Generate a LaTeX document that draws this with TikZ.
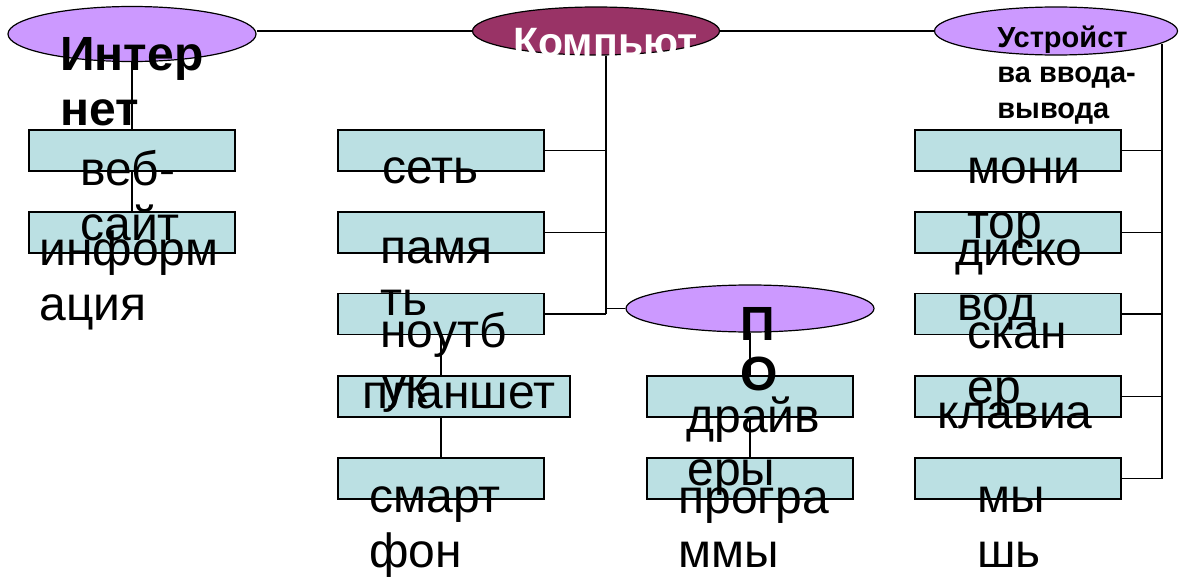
\documentclass[tikz,border=0pt]{standalone}
\usepackage{fontspec}
\setmainfont{Liberation Sans}
\usetikzlibrary{shapes.geometric}
\definecolor{boxfill}{HTML}{BBE0E3}
\definecolor{lilac}{HTML}{CC99FF}
\definecolor{plum}{HTML}{993366}
\begin{document}
\begin{tikzpicture}[x=0.5pt,y=-0.5pt,
  oval/.style={ellipse,draw=black,line width=0.6pt,inner sep=0pt},
  cbox/.style={rectangle,draw=black,fill=boxfill,line width=0.85pt,inner sep=0pt,minimum width=103pt,minimum height=20.5pt},
  conn/.style={line width=0.85pt},
  txt/.style={inner sep=0pt,anchor=base west,font=\fontsize{24}{27.5}\selectfont},
  btxt/.style={txt,font=\fontsize{24}{27.5}\selectfont\bfseries},
  stxt/.style={txt,font=\fontsize{14.5}{17.5}\selectfont\bfseries},
  wtxt/.style={txt,text=white,font=\fontsize{20.5}{24}\selectfont\bfseries}
]
\useasboundingbox (0,0) rectangle (1179,578);

% ellipses
\node[oval,fill=lilac,minimum width=124pt,minimum height=27.5pt] (inet) at (132,34) {};
\node[oval,fill=plum,minimum width=123.5pt,minimum height=24pt] (comp) at (596,31) {};
\node[oval,fill=lilac,minimum width=121.5pt,minimum height=24pt] (dev) at (1056,31) {};
\node[oval,fill=lilac,minimum width=124pt,minimum height=23.5pt] (po) at (750,308.5) {};

% boxes
\node[cbox] (b11) at (132,150.5) {};
\node[cbox] (b12) at (132,232.5) {};
\node[cbox] (b21) at (441,150.5) {};
\node[cbox] (b22) at (441,232.5) {};
\node[cbox] (b23) at (441,314) {};
\node[cbox,minimum width=116pt] (b24) at (454,396.5) {};
\node[cbox] (b25) at (441,478.5) {};
\node[cbox] (b31) at (750,396.5) {};
\node[cbox] (b32) at (750,478.5) {};
\node[cbox] (b41) at (1018,150.5) {};
\node[cbox] (b42) at (1018,232.5) {};
\node[cbox] (b43) at (1018,314) {};
\node[cbox] (b44) at (1018,396.5) {};
\node[cbox] (b45) at (1018,478.5) {};

% connectors
\coordinate (cbus) at (606,314);
\coordinate (dbus) at (1162,44);
\draw[conn] (comp.west) -- (comp.west -| inet.east);
\draw[conn] (comp) -- (dev);
\draw[conn] (comp.south -| cbus) -- (cbus);
\draw[conn] (b21.east) -- (b21.east -| cbus);
\draw[conn] (b22.east) -- (b22.east -| cbus);
\draw[conn] (b23.east) -- (cbus);
\draw[conn] (po.west) -- (po.west -| cbus);
\draw[conn] (inet) -- (b11);
\draw[conn] (b11) -- (b12);
\draw[conn] (b23.south) -- (b23.south |- b24.north);
\draw[conn] (b24.south -| b25) -- (b25.north);
\draw[conn] (po) -- (b31);
\draw[conn] (b31) -- (b32);
\draw[conn] (dbus) -- (dbus |- b45.east) -- (b45.east);
\foreach \b in {b41,b42,b43,b44}{\draw[conn] (\b.east) -- (\b.east -| dbus);}

% texts
\node[btxt] (h1a) at (60,70) {Интер};
\node[btxt] (h1b) at (60,125) {нет};
\node[wtxt] (h2) at (513,56) {Компьют};
\node[stxt] (h3a) at (997,47) {Устройст};
\node[stxt] (h3b) at (997,83) {ва ввода-};
\node[stxt] (h3c) at (997,118) {вывода};
\node[btxt] (h4a) at (740,340) {П};
\node[btxt] (h4b) at (740,390) {О};

\node[txt] (t11a) at (80,185) {веб-};
\node[txt] (t11b) at (80,240) {сайт};
\node[txt] (t12a) at (39,265) {информ};
\node[txt] (t12b) at (39,320) {ация};

\node[txt] (t21) at (382,183) {сеть};
\node[txt] (t22a) at (380,263) {памя};
\node[txt] (t22b) at (380,315) {ть};
\node[txt] (t23a) at (380,347) {ноутб};
\node[txt] (t23b) at (382,402) {ук};
\node[txt] (t24) at (362,408) {планшет};
\node[txt] (t25a) at (369,512) {смарт};
\node[txt] (t25b) at (369,567) {фон};

\node[txt] (t31a) at (686,432) {драйв};
\node[txt] (t31b) at (687,485) {еры};
\node[txt] (t32a) at (678,513) {програ};
\node[txt] (t32b) at (678,567) {ммы};

\node[txt] (t41a) at (967,183) {мони};
\node[txt] (t41b) at (967,238) {тор};
\node[txt] (t42a) at (955,265) {диско};
\node[txt] (t42b) at (957,320) {вод};
\node[txt] (t43a) at (967,348) {скан};
\node[txt] (t43b) at (967,403) {ер};
\node[txt] (t44) at (937,428) {клавиа};
\node[txt] (t45a) at (977,512) {мы};
\node[txt] (t45b) at (977,567) {шь};
\end{tikzpicture}
\end{document}
